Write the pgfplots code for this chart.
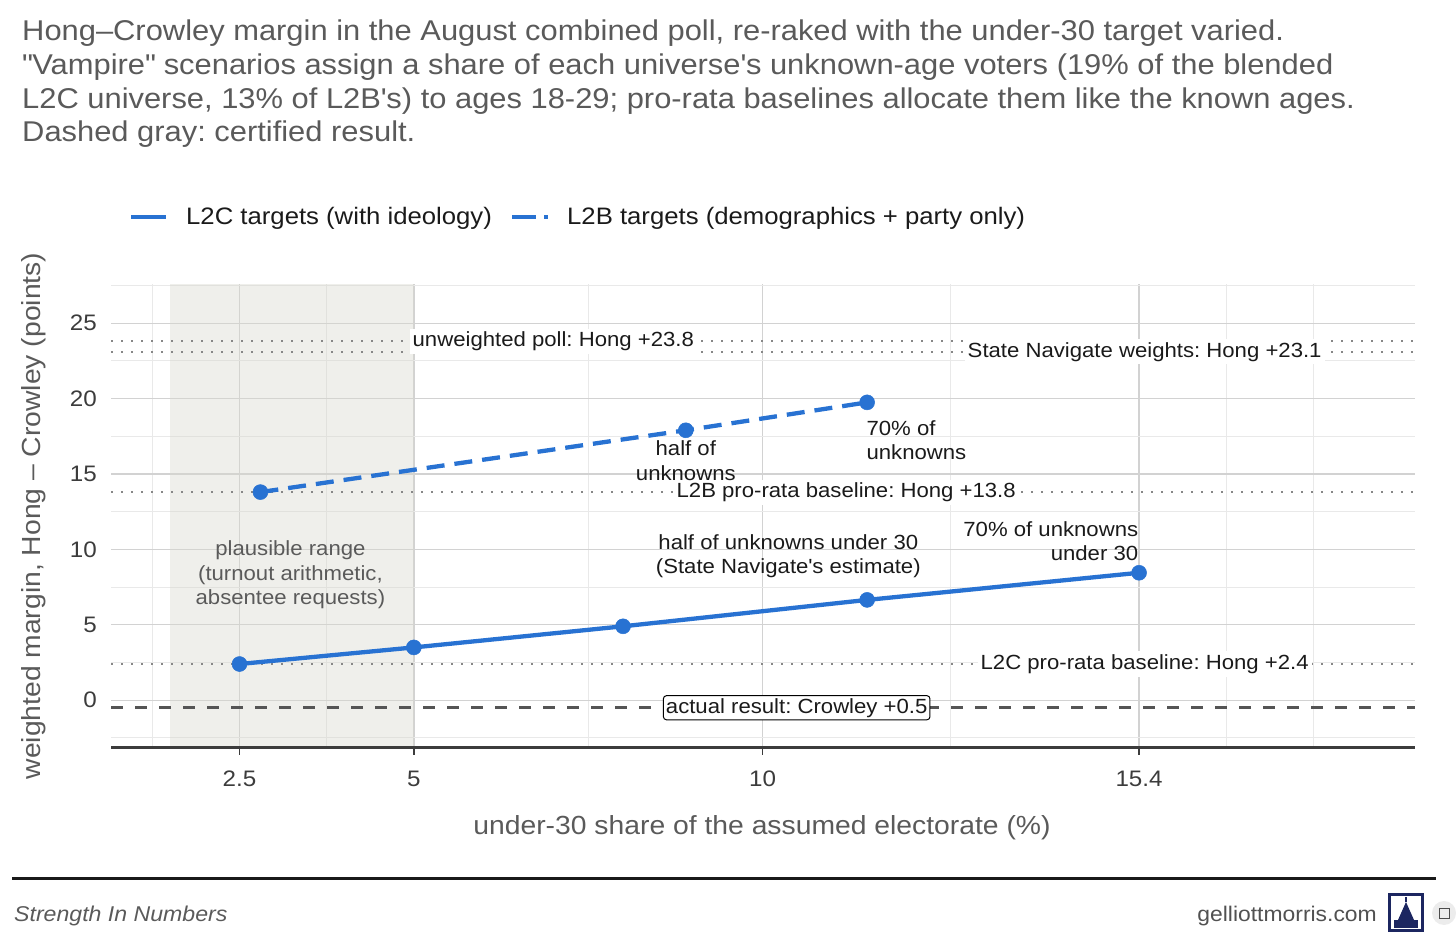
\documentclass[border=0pt]{standalone}
\usepackage{fontspec}
\setmainfont{Liberation Sans}[FakeStretch=1.08]
\usepackage{pgfplots}
\pgfplotsset{compat=1.18}
\definecolor{ser}{RGB}{40,114,210}
\definecolor{shadec}{RGB}{215,215,205}
\definecolor{gmaj}{RGB}{210,210,210}
\definecolor{gmin}{RGB}{233,233,233}
\definecolor{ttl}{RGB}{90,90,90}
\definecolor{refc}{RGB}{135,135,135}
\definecolor{certc}{RGB}{85,85,85}
\definecolor{navy}{RGB}{28,38,96}
\definecolor{txt}{RGB}{26,26,26}
\definecolor{tick}{RGB}{60,60,60}

\pgfplotstableread{
x y
2.5 2.4
5.0 3.5
8.0 4.9
11.5 6.65
15.4 8.45
}\ltwoc
\pgfplotstableread{
x y
2.8 13.8
8.9 17.9
11.5 19.75
}\ltwob

\begin{document}
\frenchspacing
\begin{tikzpicture}[x=1pt,y=1pt]
\path[use as bounding box] (0,0) rectangle (1456,945);
% title
\begin{scope}[every node/.style={anchor=base west, inner sep=0pt, text=ttl, font=\fontsize{28.6}{33}\selectfont}]
\node at (22,945-40.7) {Hong–Crowley margin in the August combined poll, re-raked with the under-30 target varied.};
\node at (22,945-75) {\textquotedbl Vampire\textquotedbl{} scenarios assign a share of each universe\textquotesingle s unknown-age voters (19\% of the blended};
\node at (22,945-108.3) {L2C universe, 13\% of L2B\textquotesingle s) to ages 18-29; pro-rata baselines allocate them like the known ages.};
\node at (22,945-141.7) {Dashed gray: certified result.};
\end{scope}
% legend
\draw[ser, line width=4.3pt] (131,945-216.7) -- (165.5,945-216.7);
\node[anchor=base west, inner sep=0pt, text=txt, font=\fontsize{23.8}{27}\selectfont] at (186,945-225) {L2C targets (with ideology)};
\draw[ser, line width=4.3pt, dash pattern=on 24pt off 8pt] (512,945-216.7) -- (548,945-216.7);
\node[anchor=base west, inner sep=0pt, text=txt, font=\fontsize{23.8}{27}\selectfont] at (567,945-225) {L2B targets (demographics + party only)};

\begin{axis}[
  at={(111pt,197.3pt)}, anchor=south west, scale only axis,
  width=1304pt, height=463.7pt,
  xmin=0.657, xmax=19.357, ymin=-3.15, ymax=27.6,
  clip=false,
  axis line style={draw=none},
  xtick={2.5,5,10,15.4}, xticklabels={2.5,5,10,15.4},
  minor xtick={1.25,3.75,7.5,12.7,16.65,17.9},
  ytick={0,5,10,15,20,25}, yticklabels={0,5,10,15,20,25},
  minor ytick={-2.5,2.5,7.5,12.5,17.5,22.5,27.5},
  grid=both,
  major grid style={draw=gmaj, line width=1.3pt},
  minor grid style={draw=gmin, line width=0.9pt},
  xtick pos=left, ytick pos=left,
  xtick align=outside,
  major tick length=7pt, minor tick length=0pt,
  xtick style={draw=tick, line width=1.6pt},
  ytick style={draw=none},
  /pgf/number format/assume math mode=true,
  tick label style={font=\fontsize{22.4}{26}\selectfont, text=tick},
  xticklabel style={inner sep=0pt, anchor=north, yshift=-16pt},
  yticklabel style={inner sep=0pt, anchor=east, xshift=-14pt},
]
% plausible range shading
\addplot[draw=none, fill=shadec, fill opacity=0.4] coordinates {(1.5,-3.15) (5,-3.15) (5,27.6) (1.5,27.6)} -- cycle;
% reference lines
\addplot[refc, line width=1.7pt, dash pattern=on 1.7pt off 8.3pt] coordinates {(0.657,23.8) (19.357,23.8)};
\addplot[refc, line width=1.7pt, dash pattern=on 1.7pt off 8.3pt] coordinates {(0.657,23.1) (19.357,23.1)};
\addplot[refc, line width=1.7pt, dash pattern=on 1.7pt off 8.3pt] coordinates {(0.657,13.8) (19.357,13.8)};
\addplot[refc, line width=1.7pt, dash pattern=on 1.7pt off 8.3pt] coordinates {(0.657,2.4) (19.357,2.4)};
\addplot[certc, line width=3pt, dash pattern=on 12pt off 12pt] coordinates {(0.657,-0.5) (19.357,-0.5)};
% series
\addplot[ser, line width=4.3pt, mark=*, mark size=7.5pt, mark options={solid, draw=ser, fill=ser, line width=0.5pt}] table {\ltwoc};
\addplot[ser, line width=4.3pt, dash pattern=on 18pt off 10pt, mark=*, mark size=7.5pt, mark options={solid, draw=ser, fill=ser, line width=0.5pt}] table {\ltwob};
% axis line
\draw[tick, line width=2.5pt] (rel axis cs:0,0) -- (rel axis cs:1,0);
% labels on reference lines
\begin{scope}[every node/.style={fill=white, inner sep=3pt, text=txt, font=\fontsize{20.5}{24.5}\selectfont}]
\node at (axis cs:7.0,23.8) {unweighted poll: Hong +23.8};
\node at (axis cs:15.48,23.1) {State Navigate weights: Hong +23.1};
\node at (axis cs:11.2,13.8) {L2B pro-rata baseline: Hong +13.8};
\node at (axis cs:15.48,2.4) {L2C pro-rata baseline: Hong +2.4};
\end{scope}
\node[draw=black, fill=white, rounded corners=3pt, line width=1pt, inner sep=2.5pt, text=txt, font=\fontsize{20.5}{24.5}\selectfont] at (axis cs:10.49,-0.5) {actual result: Crowley +0.5};
% point annotations
\begin{scope}[every node/.style={inner sep=0pt, text=txt, font=\fontsize{20.5}{24.5}\selectfont}]
\node[align=center] at (axis cs:8.9,15.9) {half of\\unknowns};
\node[align=left, anchor=west] at (axis cs:11.49,17.25) {70\% of\\unknowns};
\node[align=center] at (axis cs:10.37,9.55) {half of unknowns under 30\\(State Navigate\textquotesingle s estimate)};
\node[align=right, anchor=east] at (axis cs:15.39,10.55) {70\% of unknowns\\under 30};
\node[align=center, text=ttl] at (axis cs:3.23,8.3) {plausible range\\(turnout arithmetic,\\absentee requests)};
\end{scope}
\end{axis}
% axis titles
\node[rotate=90, inner sep=0pt, text=ttl, font=\fontsize{26.2}{30}\selectfont] at (34,945-516) {weighted margin, Hong – Crowley (points)};
\node[anchor=base, inner sep=0pt, text=ttl, font=\fontsize{26.2}{30}\selectfont] at (762,945-835) {under-30 share of the assumed electorate (\%)};
% footer
\draw[black!90, line width=3pt] (12,945-879) -- (1436,945-879);
\node[anchor=base west, inner sep=0pt, text=ttl, font=\fontsize{21.4}{25}\selectfont\itshape] at (14,945-921) {Strength In Numbers};
\node[anchor=base east, inner sep=0pt, text=ttl!90!black, font=\fontsize{21.2}{25}\selectfont] at (1377,945-921) {gelliottmorris.com};
% logo
\fill[navy] (1388,945-932) rectangle (1424,945-893);
\fill[white] (1391,945-929) rectangle (1421,945-896);
\fill[navy] (1394,945-928) rectangle (1418,945-920);
\fill[navy] (1398,945-920) -- (1414,945-920) -- (1406,945-902) -- cycle;
\fill[navy] (1405,945-902) rectangle (1407,945-897);
\fill[gray!15] (1444,945-913) circle (12);
\draw[gray!60!black, line width=1pt] (1439,945-908) rectangle (1449,945-918);
\end{tikzpicture}
\end{document}
